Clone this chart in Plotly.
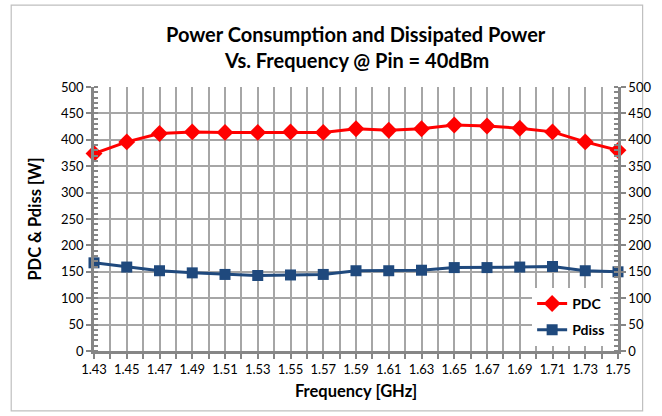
import plotly.graph_objects as go

freq = [1.43, 1.45, 1.47, 1.49, 1.51, 1.53, 1.55, 1.57, 1.59, 1.61, 1.63, 1.65, 1.67, 1.69, 1.71, 1.73, 1.75]
pdc = [374, 396, 412, 415, 414, 414, 415, 414, 421, 418, 421, 428, 426, 422, 415, 396, 380]
pdiss = [167, 159, 152, 148, 145, 143, 144, 145, 152, 152, 153, 158, 158, 159, 160, 152, 150]
x_ticks = [1.43, 1.45, 1.47, 1.49, 1.51, 1.53, 1.55, 1.57, 1.59, 1.61, 1.63, 1.65, 1.67, 1.69, 1.71, 1.73, 1.75]
x_labels = ["%.2f" % v for v in x_ticks]
title_lines = ["Power Consumption and Dissipated Power", "Vs. Frequency @ Pin = 40dBm"]

FONT = "Lato"
GRID = "#A6A6A6"
AXIS = "#868686"

fig = go.Figure()
fig.add_trace(go.Scatter(x=freq, y=pdc, name="PDC", mode="lines+markers", legendgroup="a",
                         cliponaxis=False,
                         line=dict(color="#FF0000", width=3),
                         marker=dict(symbol="diamond", size=13, color="#FF0000")))
fig.add_trace(go.Scatter(x=freq, y=pdiss, name="Pdiss", mode="lines+markers", legendgroup="b",
                         cliponaxis=False,
                         line=dict(color="#1F497D", width=3),
                         marker=dict(symbol="square", size=11, color="#1F497D")))
# invisible trace for the right axis
fig.add_trace(go.Scatter(x=freq, y=pdc, yaxis="y2", showlegend=False, hoverinfo="skip",
                         mode="lines", line=dict(width=0), opacity=0))

fig.update_layout(
    width=662, height=416,
    margin=dict(l=94, r=44, t=87, b=65),
    paper_bgcolor="white", plot_bgcolor="white",
    font=dict(family=FONT, size=12, color="black"),
    xaxis=dict(range=[1.43, 1.75], tickmode="array", tickvals=x_ticks, ticktext=x_labels,
               showgrid=True, gridcolor=GRID, gridwidth=2,
               showline=True, linecolor=AXIS, linewidth=2.5,
               ticks="outside", ticklen=5, tickcolor=AXIS, tickwidth=2,
               minor=dict(dtick=0.01, tick0=1.43, showgrid=True, gridcolor=GRID, gridwidth=2,
                          ticks="outside", ticklen=5, tickcolor=AXIS),
               zeroline=False, tickfont=dict(size=13),
               title=dict(text="<b>Frequency [GHz]</b>", font=dict(size=16.5), standoff=10)),
    yaxis=dict(range=[0, 500], dtick=50, showgrid=True, gridcolor=GRID, gridwidth=2,
               showline=True, linecolor=AXIS, linewidth=2.5, mirror=False,
               ticks="outside", ticklen=5, tickcolor=AXIS, tickwidth=2,
               minor=dict(dtick=10, ticks="inside", ticklen=4, tickcolor=AXIS, showgrid=False),
               zeroline=False, tickfont=dict(size=13),
               title=dict(text="<b>PDC & Pdiss [W]</b>", font=dict(size=16.5), standoff=16)),
    yaxis2=dict(range=[0, 500], dtick=50, overlaying="y", side="right", showgrid=False,
                showline=True, linecolor=AXIS, linewidth=2.5,
                ticks="outside", ticklen=5, tickcolor=AXIS, tickwidth=2,
                minor=dict(dtick=10, ticks="inside", ticklen=4, tickcolor=AXIS),
                zeroline=False, tickfont=dict(size=13)),
    legend=dict(x=0.985, y=0.129, xanchor="right", yanchor="middle",
                bgcolor="white", font=dict(size=14, family=FONT, weight="bold"),
                itemwidth=30, tracegroupgap=5),
    showlegend=True,
    annotations=[
        dict(text="<b>%s</b>" % title_lines[0], xref="paper", yref="paper", x=0.5, y=1.2008,
             xanchor="center", yanchor="middle", showarrow=False,
             font=dict(family=FONT, size=20, color="black")),
        dict(text="<b>%s</b>" % title_lines[1], xref="paper", yref="paper", x=0.5, y=1.1023,
             xanchor="center", yanchor="middle", showarrow=False,
             font=dict(family=FONT, size=20, color="black")),
    ],
    shapes=[dict(type="rect", xref="paper", yref="paper",
                 x0=-0.158, x1=1.047, y0=-0.227, y1=1.31,
                 line=dict(color="#BFBFBF", width=1.2), layer="below")],
)

fig.write_html("out.html")
